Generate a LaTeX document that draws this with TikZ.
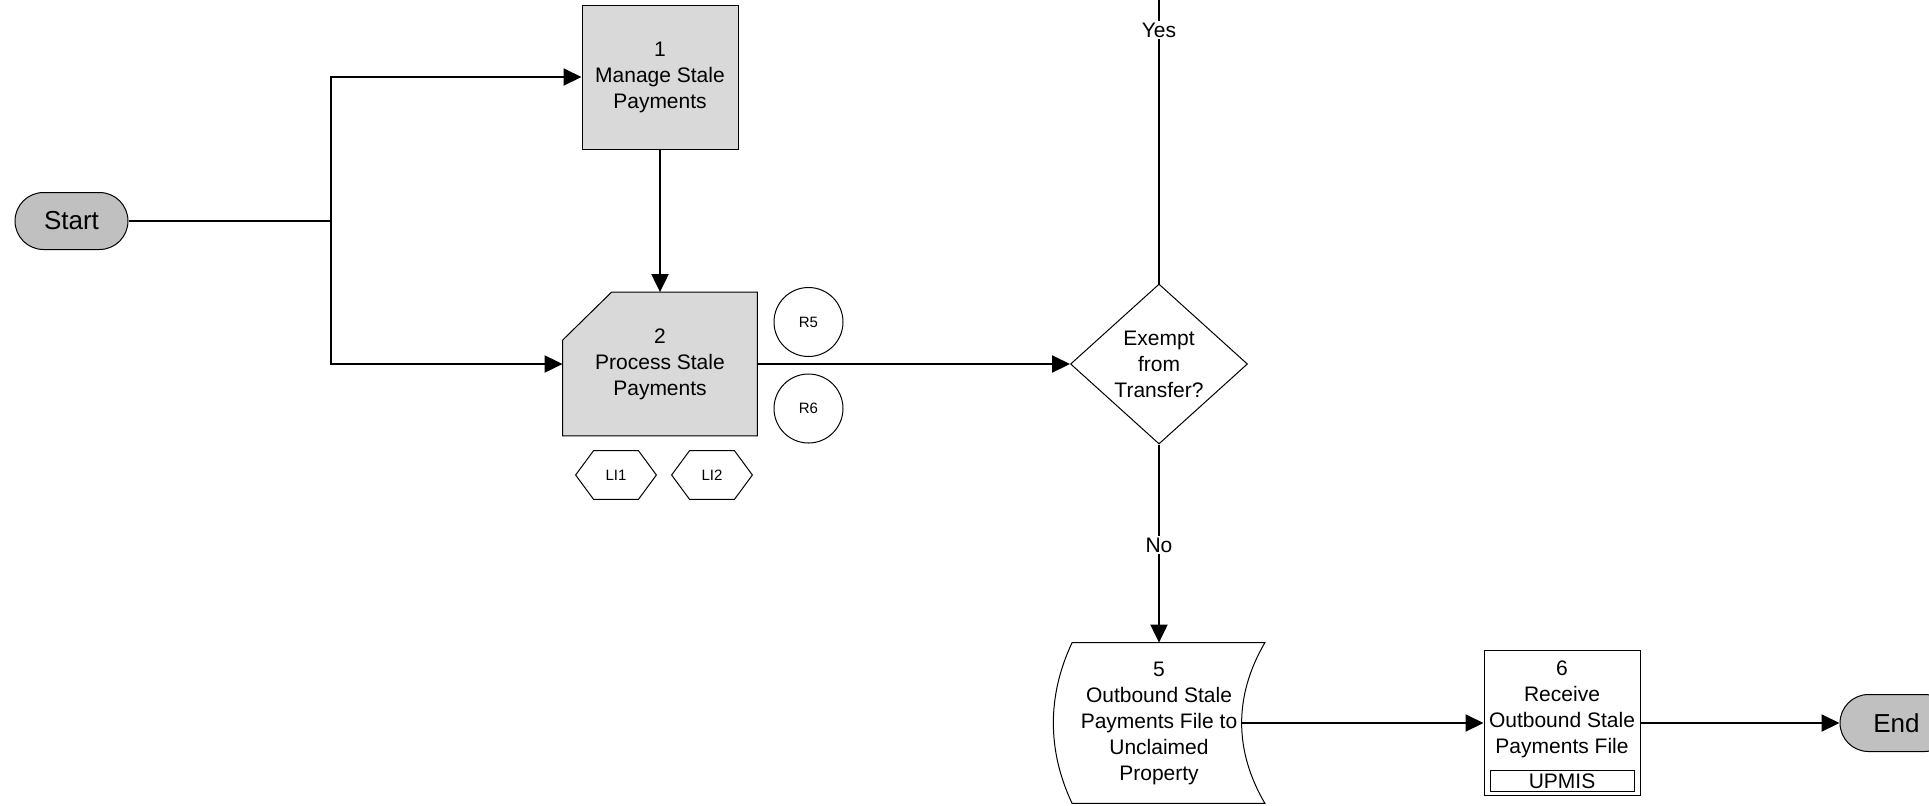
\documentclass[tikz,border=0pt]{standalone}
\usepackage{fontspec}
\setmainfont{Liberation Sans}
\usepackage{color}
\usetikzlibrary{shapes.geometric,arrows.meta,positioning}
\definecolor{termgray}{RGB}{192,192,192}
\definecolor{boxgray}{RGB}{217,217,217}

\begin{document}
\begin{tikzpicture}[x=0.5pt,y=-0.5pt,
  txt/.style={font=\fontsize{10.5}{13}\selectfont,align=center,inner sep=0pt},
  shapeline/.style={line width=0.5pt},
  term/.style={rectangle,rounded corners=14.25pt,draw,shapeline,fill=termgray,minimum width=56.5pt,minimum height=28.5pt,font=\fontsize{13}{15}\selectfont},
  procbox/.style={rectangle,draw,shapeline,fill=boxgray,minimum width=78pt,minimum height=72pt,txt},
  procw/.style={rectangle,draw,shapeline,fill=white,minimum width=78pt,minimum height=72.5pt,inner sep=0pt},
  sysbox/.style={rectangle,draw,shapeline,minimum width=72pt,minimum height=10.5pt,inner sep=0pt,font=\fontsize{10.5}{12}\selectfont},
  refc/.style={circle,draw,shapeline,minimum size=34.5pt,inner sep=0pt,font=\fontsize{7.5}{9}\selectfont},
  hexa/.style={rectangle,minimum width=40pt,minimum height=24pt,inner sep=0pt,font=\fontsize{7.5}{9}\selectfont},
  decision/.style={diamond,draw,shapeline,minimum width=88.5pt,minimum height=80pt,inner sep=0pt},
  lbl/.style={fill=white,inner sep=1pt,font=\fontsize{10.5}{13}\selectfont},
  flow/.style={line width=1pt},
  arr/.style={line width=1pt,-{Triangle[length=9pt,width=8.5pt]}}]
\clip (0,0) rectangle (1929,805);
\node [term] (start) at (71.5,221) {Start};
\coordinate (j) at (331,221);
\node [procbox] (m) at (660,77) {1\\Manage Stale\\Payments};
\node [rectangle,minimum width=97pt,minimum height=71.5pt,inner sep=0pt] (p) at (660,364) {};
\draw [shapeline,fill=boxgray] ([yshift=-24pt]p.north west)--([xshift=24.5pt]p.north west)--(p.north east)--(p.south east)--(p.south west)--cycle;
\node [txt] (ptext) at (p) {2\\Process Stale\\Payments};
\node [refc] (r5) at (808.5,322) {R5};
\node [refc] (r6) at (808.5,408.5) {R6};
\node [hexa] (li1) at (616,475) {LI1};
\node [hexa] (li2) at (712,475) {LI2};
\draw [shapeline] (li1.west)--([xshift=9pt]li1.north west)--([xshift=-9pt]li1.north east)--(li1.east)--([xshift=-9pt]li1.south east)--([xshift=9pt]li1.south west)--cycle;
\draw [shapeline] (li2.west)--([xshift=9pt]li2.north west)--([xshift=-9pt]li2.north east)--(li2.east)--([xshift=-9pt]li2.south east)--([xshift=9pt]li2.south west)--cycle;
\node [decision] (ex) at (1159,364) {};
\node [txt] (extext) at (ex) {Exempt\\from\\Transfer?};
\coordinate (yestop) at (1159,0);
\node [rectangle,minimum width=105.5pt,minimum height=80pt,inner sep=0pt] (f5) at (1159,723) {};
\draw [shapeline] ([xshift=9.5pt]f5.north west) .. controls ([xshift=-3pt,yshift=-26.5pt]f5.north west) and ([xshift=-3pt,yshift=26.5pt]f5.south west) .. ([xshift=9.5pt]f5.south west)--(f5.south east) .. controls ([xshift=-15.5pt,yshift=26.5pt]f5.south east) and ([xshift=-15.5pt,yshift=-26.5pt]f5.north east) .. (f5.north east)--cycle;
\node [txt] (f5text) at (f5) {5\\Outbound Stale\\Payments File to\\Unclaimed\\Property};
\node [procw] (b6) at (1562,723) {};
\node [txt] (b6text) at ([yshift=6.75pt]b6.center) {6\\Receive\\Outbound Stale\\Payments File};
\node [sysbox,above=2pt of b6.south] (upm) {UPMIS};
\node [term] (end) at (1896.5,723) {End};
% connectors
\draw [flow] (start)--(j);
\draw [arr] (j)|-(m);
\draw [arr] (j)|-(p);
\draw [arr] (m)--(p);
\draw [arr] (p)--(ex);
\draw [flow] (ex)--(yestop);
\node [lbl] (yes) at (1159,30) {Yes};
\draw [arr] (ex)--(f5);
\node [lbl] (no) at (1159,545) {No};
\draw [arr] ([xshift=-11.5pt]f5.east)--(b6);
\draw [arr] (b6)--(end);
\end{tikzpicture}
\end{document}
